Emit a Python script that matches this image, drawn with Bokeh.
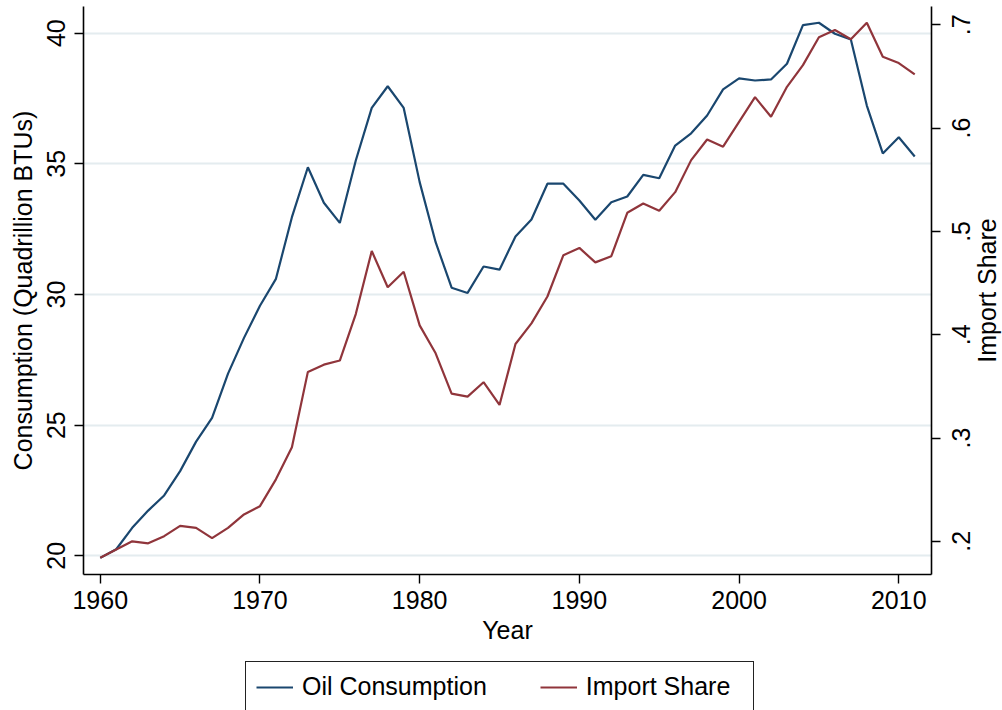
import math
from bokeh.plotting import figure
from bokeh.layouts import column, row
from bokeh.models import (Range1d, LinearAxis, FixedTicker, CustomJSTickFormatter,
                          Legend, LegendItem)
from bokeh.core.properties import value
from bokeh.embed import file_html
from bokeh.resources import INLINE

years = [1960, 1961, 1962, 1963, 1964, 1965, 1966, 1967, 1968, 1969,
         1970, 1971, 1972, 1973, 1974, 1975, 1976, 1977, 1978, 1979,
         1980, 1981, 1982, 1983, 1984, 1985, 1986, 1987, 1988, 1989,
         1990, 1991, 1992, 1993, 1994, 1995, 1996, 1997, 1998, 1999,
         2000, 2001, 2002, 2003, 2004, 2005, 2006, 2007, 2008, 2009,
         2010, 2011]

oil_consumption = [19.92, 20.25, 21.07, 21.73, 22.31, 23.24, 24.37, 25.28, 26.97, 28.34,
                   29.57, 30.60, 32.96, 34.87, 33.51, 32.74, 35.13, 37.14, 37.97, 37.14,
                   34.30, 32.00, 30.26, 30.06, 31.07, 30.95, 32.22, 32.87, 34.24, 34.24,
                   33.60, 32.86, 33.53, 33.75, 34.58, 34.45, 35.70, 36.17, 36.85, 37.85,
                   38.27, 38.19, 38.23, 38.83, 40.31, 40.40, 39.98, 39.76, 37.23, 35.40,
                   36.02, 35.28]

import_share = [0.184, 0.192, 0.200, 0.198, 0.205, 0.215, 0.213, 0.203, 0.213, 0.226,
                0.234, 0.260, 0.291, 0.364, 0.371, 0.375, 0.420, 0.481, 0.446, 0.461,
                0.409, 0.382, 0.343, 0.340, 0.354, 0.332, 0.391, 0.411, 0.437, 0.477,
                0.484, 0.470, 0.476, 0.518, 0.527, 0.520, 0.538, 0.569, 0.589, 0.582,
                0.606, 0.630, 0.611, 0.640, 0.661, 0.688, 0.695, 0.686, 0.702, 0.669,
                0.663, 0.652]

x_ticks = [1960, 1970, 1980, 1990, 2000, 2010]
left_ticks = [20, 25, 30, 35, 40]
right_ticks = [0.2, 0.3, 0.4, 0.5, 0.6, 0.7]
right_tick_labels = [".2", ".3", ".4", ".5", ".6", ".7"]
series_names = ["Oil Consumption", "Import Share"]
x_title = "Year"
left_title = "Consumption (Quadrillion BTUs)"
right_title = "Import Share"

FONT = "Liberation Sans"
FS = "25px"
BLUE = "#1a476f"
RED = "#90353b"

share_range = Range1d(0.16786, 0.71772)

p = figure(width=942, height=655, output_backend="svg", toolbar_location=None,
           x_range=Range1d(1958.95, 2012.05), y_range=Range1d(19.284, 41.022),
           min_border_left=83, min_border_right=11, min_border_top=6,
           min_border_bottom=81, background_fill_color="white",
           border_fill_color="white", outline_line_color=None)

p.extra_y_ranges = {"share": share_range}

r1 = p.line(years, oil_consumption, line_color=BLUE, line_width=2.2)
r2 = p.line(years, import_share, line_color=RED, line_width=2.2, y_range_name="share")

def style_axis(ax):
    ax.axis_line_color = "black"
    ax.axis_line_width = 1.6
    ax.major_tick_line_color = "black"
    ax.major_tick_line_width = 1.4
    ax.major_tick_out = 9
    ax.major_tick_in = 0
    ax.minor_tick_line_color = None
    ax.major_label_text_font = FONT
    ax.major_label_text_font_size = FS
    ax.major_label_text_color = "black"
    ax.axis_label_text_font = FONT
    ax.axis_label_text_font_size = FS
    ax.axis_label_text_font_style = "normal"
    ax.axis_label_text_color = "black"

xa = p.xaxis[0]
style_axis(xa)
xa.ticker = FixedTicker(ticks=x_ticks)
xa.axis_label = x_title
xa.major_label_standoff = 7
xa.axis_label_standoff = 4

ya = p.yaxis[0]
style_axis(ya)
ya.ticker = FixedTicker(ticks=left_ticks)
ya.axis_label = left_title
ya.major_label_orientation = "vertical"
ya.major_label_standoff = 9
ya.axis_label_standoff = 8

# right axis: line and ticks only; its labels are drawn in the strip to the right
ra = LinearAxis(y_range_name="share", ticker=FixedTicker(ticks=right_ticks),
                formatter=CustomJSTickFormatter(code="return '';"))
style_axis(ra)
ra.major_label_text_font_size = "0px"
ra.major_label_standoff = 0
p.add_layout(ra, "right")

p.xgrid.grid_line_color = None
p.ygrid.ticker = FixedTicker(ticks=left_ticks)
p.ygrid.grid_line_color = "#e4ecef"
p.ygrid.grid_line_width = 2

# strip holding the right-axis tick labels and title
r = figure(width=60, height=655, output_backend="svg", toolbar_location=None,
           x_range=Range1d(942, 1002), y_range=share_range,
           x_axis_location=None, y_axis_location=None,
           min_border_left=0, min_border_right=0, min_border_top=6, min_border_bottom=81,
           background_fill_color="white", border_fill_color="white", outline_line_color=None)
r.xgrid.grid_line_color = None
r.ygrid.grid_line_color = None
r.text(x=[960] * len(right_ticks), y=right_ticks, text=right_tick_labels,
       angle=math.pi / 2, text_align="center", text_baseline="middle",
       text_font=value(FONT), text_font_size=FS, text_color="black")
r.text(x=[986], y=[(share_range.start + share_range.end) / 2], text=[right_title],
       angle=math.pi / 2, text_align="center", text_baseline="middle",
       text_font=value(FONT), text_font_size=FS, text_color="black")

# legend strip below the chart
q = figure(width=1002, height=55, output_backend="svg", toolbar_location=None,
           x_range=Range1d(0, 1), y_range=Range1d(0, 1),
           x_axis_location=None, y_axis_location=None,
           min_border_left=0, min_border_right=0, min_border_top=0, min_border_bottom=0,
           background_fill_color="white", border_fill_color="white", outline_line_color=None)
q.xgrid.grid_line_color = None
q.ygrid.grid_line_color = None
l1 = q.line(years, oil_consumption, line_color=BLUE, line_width=2.2)
l2 = q.line(years, import_share, line_color=RED, line_width=2.2)

legend = Legend(items=[LegendItem(label=series_names[0], renderers=[l1]),
                       LegendItem(label=series_names[1], renderers=[l2])],
                orientation="horizontal", location=(245, -2), margin=0,
                padding=10, spacing=53, glyph_width=37, glyph_height=28,
                label_height=28, label_standoff=9, label_width=157,
                label_text_font=FONT, label_text_font_size=FS,
                label_text_color="black",
                border_line_color="#222222", border_line_width=1.6, border_line_alpha=1.0,
                background_fill_color="white", background_fill_alpha=1.0)
q.add_layout(legend, "center")

layout = column(row(p, r, spacing=0), q, spacing=0)
open("out.html", "w").write(file_html(layout, INLINE))
